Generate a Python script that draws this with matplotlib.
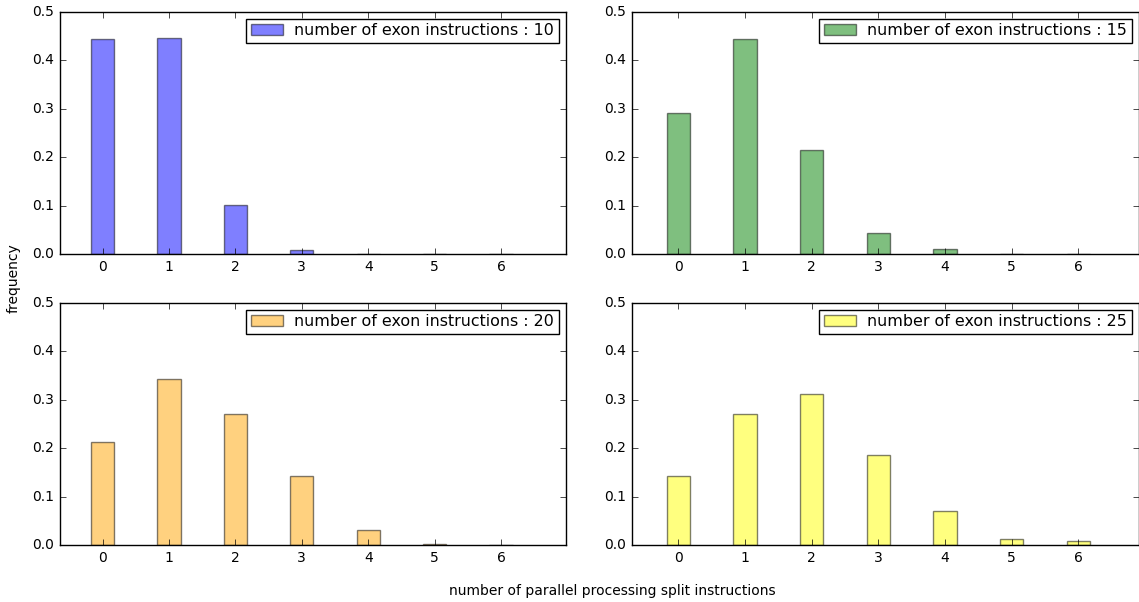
import numpy as np
import matplotlib
matplotlib.use('Agg')
import matplotlib.pyplot as plt

plt.style.use('classic')

split_counts = [0, 1, 2, 3, 4, 5, 6]
exon_counts = [10, 15, 20, 25]
freq_10 = [0.445, 0.446, 0.102, 0.008, 0.0, 0.0, 0.0]
freq_15 = [0.291, 0.444, 0.215, 0.043, 0.010, 0.0, 0.0]
freq_20 = [0.213, 0.343, 0.271, 0.142, 0.032, 0.002, 0.0]
freq_25 = [0.142, 0.271, 0.312, 0.186, 0.070, 0.012, 0.008]
colors = ['blue', 'green', 'orange', 'yellow']

freqs = [freq_10, freq_15, freq_20, freq_25]

W, H = 1139.0, 602.0
fig = plt.figure(figsize=(11.39, 6.02), dpi=100, facecolor='white')

# axes boxes in pixels (left, right, top, bottom)
boxes = [(60, 565.5, 12, 254), (632, 1138.5, 12, 254),
         (60, 565.5, 303, 545), (632, 1138.5, 303, 545)]
xlims = [(-0.64, 6.97), (-0.694, 6.90), (-0.64, 6.97), (-0.694, 6.90)]

for i in range(4):
    l, r, t, b = boxes[i]
    ax = fig.add_axes([l / W, 1 - b / H, (r - l) / W, (b - t) / H])
    ax.bar(split_counts, freqs[i], 0.35, align='center', color=colors[i],
           alpha=0.5, edgecolor='black',
           label='number of exon instructions : %d' % exon_counts[i])
    ax.set_xlim(*xlims[i])
    ax.set_ylim(0, 0.5)
    ax.set_xticks(split_counts)
    ax.set_yticks([0.0, 0.1, 0.2, 0.3, 0.4, 0.5])
    ax.tick_params(labelsize=10)
    ax.legend(loc='upper right', fontsize=11.4, borderaxespad=0.42,
              borderpad=0.3, handlelength=2.05, handletextpad=0.7)

fig.text(14 / W, 1 - 278 / H, 'frequency', rotation=90, va='center', ha='center', fontsize=10)
fig.text(612 / W, 1 - 591 / H, 'number of parallel processing split instructions',
         ha='center', va='center', fontsize=10)

fig.savefig('out.png', dpi=100, facecolor='white')
